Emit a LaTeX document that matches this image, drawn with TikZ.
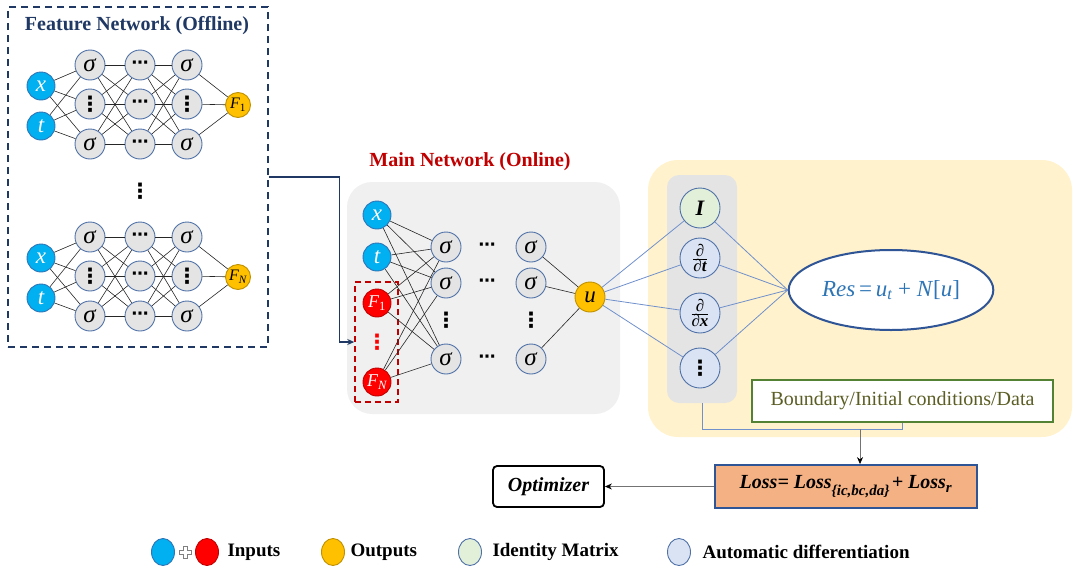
\documentclass[tikz,border=0pt]{standalone}
\usepackage{fontspec}
\setmainfont{Liberation Serif}
\newfontfamily\dotsfnt{DejaVu Sans}
\usetikzlibrary{arrows.meta,shapes.geometric}

\definecolor{inblue}{HTML}{00B0F0}
\definecolor{inedge}{HTML}{2E75B6}
\definecolor{featred}{HTML}{FF0000}
\definecolor{featedge}{HTML}{C00000}
\definecolor{outgold}{HTML}{FFC000}
\definecolor{outedge}{HTML}{BF9000}
\definecolor{cellgray}{HTML}{E4E4E4}
\definecolor{celledge}{HTML}{4F71A8}
\definecolor{idgreen}{HTML}{E2F0D9}
\definecolor{adblue}{HTML}{DAE3F3}
\definecolor{navy}{HTML}{1F3864}
\definecolor{titlered}{HTML}{C00000}
\definecolor{panelgray}{HTML}{F0F0F0}
\definecolor{autogray}{HTML}{E4E4E4}
\definecolor{panelyellow}{HTML}{FFF2CC}
\definecolor{linkblue}{HTML}{7090CC}
\definecolor{resblue}{HTML}{2F5597}
\definecolor{restext}{HTML}{2E75B6}
\definecolor{bcgreen}{HTML}{548235}
\definecolor{bctext}{HTML}{5B5E24}
\definecolor{losssalmon}{HTML}{F4B183}
\definecolor{lossedge}{HTML}{2F5597}

\newcommand\fsz[1]{\fontsize{#1}{#1}\selectfont}
\newcommand\vdt{{\dotsfnt\bfseries ⋮}}
\newcommand\hdt{{\dotsfnt\bfseries ⋯}}
\newcommand\bi[2]{\mbox{\fsz{#1}\bfseries\itshape #2}}
\newcommand\sig{\textit{σ}}

\begin{document}
\begin{tikzpicture}[x=1pt, y=-1pt,
    cell/.style={shape=circle, draw=celledge, fill=cellgray, line width=0.9pt, minimum size=30pt, inner sep=0pt, font=\fsz{25}},
    inp/.style={shape=circle, draw=inedge, fill=inblue, text=white, line width=0.9pt, minimum size=28pt, inner sep=0pt, font=\fsz{23}\itshape},
    feat/.style={inp, draw=featedge, fill=featred, font=\fsz{18}\itshape},
    outp/.style={shape=circle, draw=outedge, fill=outgold, line width=0.9pt, minimum size=25pt, inner sep=0pt, font=\fsz{16}\itshape},
    op/.style={shape=circle, draw=celledge, line width=0.9pt, minimum size=40pt, inner sep=0pt, font=\fsz{19}},
    dts/.style={font=\fsz{17}},
    vdts/.style={font=\fsz{21}},
    link/.style={draw=black!85, line width=0.6pt},
    blink/.style={draw=linkblue, line width=0.8pt},
    ttl/.style={font=\fsz{20}\bfseries},
    leg/.style={shape=ellipse, line width=0.9pt, minimum width=23pt, minimum height=27pt, inner sep=0pt},
    legtxt/.style={anchor=west, font=\fsz{19}\bfseries},
    arr/.style={draw=black!55, line width=0.8pt, -{Stealth[length=7pt, width=6pt, color=black]}}
  ]
  \useasboundingbox (0,0) rectangle (1075,570);

  % feature networks (offline)
  \node[draw=navy, dashed, dash pattern=on 7pt off 5pt, line width=1.8pt, minimum width=260pt, minimum height=340pt] (FBOX) at (138,177) {};
  \node[ttl, text=navy] (FTITLE) at (137,26) {Feature Network (Offline)};

  \node[inp] (XA) at (41,86) {x};
  \node[inp] (TA) at (41,126) {t};
  \node[cell] (A11) at (90,65) {\sig};
  \node[cell, vdts] (A12) at (90,104) {\vdt};
  \node[cell] (A13) at (90,144) {\sig};
  \node[cell, dts] (A21) at (140,65) {\hdt};
  \node[cell, dts] (A22) at (140,104) {\hdt};
  \node[cell, dts] (A23) at (140,144) {\hdt};
  \node[cell] (A31) at (187,65) {\sig};
  \node[cell, vdts] (A32) at (187,104) {\vdt};
  \node[cell] (A33) at (187,144) {\sig};
  \node[outp] (FA1) at (238,105) {F\textsubscript{\upshape 1}};

  \node[vdts] (VDOTS) at (140,191) {\vdt};

  \node[inp] (XB) at (41,258) {x};
  \node[inp] (TB) at (41,298) {t};
  \node[cell] (B11) at (90,237) {\sig};
  \node[cell, vdts] (B12) at (90,276) {\vdt};
  \node[cell] (B13) at (90,316) {\sig};
  \node[cell, dts] (B21) at (140,237) {\hdt};
  \node[cell, dts] (B22) at (140,276) {\hdt};
  \node[cell, dts] (B23) at (140,316) {\hdt};
  \node[cell] (B31) at (187,237) {\sig};
  \node[cell, vdts] (B32) at (187,276) {\vdt};
  \node[cell] (B33) at (187,316) {\sig};
  \node[outp] (FBN) at (238,277) {F\textsubscript{N}};

  \foreach \net/\out in {A/FA1,B/FBN}
    \foreach \row in {1,2,3} {
      \path[link] (X\net) edge (\net1\row);
      \path[link] (T\net) edge (\net1\row);
      \path[link] (\net3\row) edge (\out);
      \foreach \pp in {1,2,3} {
        \path[link] (\net1\row) edge (\net2\pp);
        \path[link] (\net2\row) edge (\net3\pp);
      }
    }

  % main network (online)
  \node[rounded corners=25pt, fill=panelgray, minimum width=273pt, minimum height=232pt] (MAIN) at (483.5,298) {};
  \node[ttl, text=titlered] (MTITLE) at (470,162) {Main Network (Online)};
  \node[draw=featedge, dashed, dash pattern=on 6pt off 4pt, line width=1.5pt, minimum width=43pt, minimum height=120pt] (RBOX) at (376.5,342) {};
  \node[inp] (X) at (377,215) {x};
  \node[inp] (T) at (377,257) {t};
  \node[feat] (FA) at (377,303) {F\textsubscript{\upshape 1}};
  \node[vdts, text=red] (FD) at (377,342) {\vdt};
  \node[feat] (FB) at (377,382) {F\textsubscript{N}};
  \foreach \col/\xx in {1/446,2/531} {
    \node[cell] (S\col1) at (\xx,247) {\sig};
    \node[cell] (S\col2) at (\xx,283) {\sig};
    \node[vdts] (S\col3) at (\xx,320) {\vdt};
    \node[cell] (S\col4) at (\xx,359) {\sig};
  }
  \foreach \row/\yy in {1/247,2/283,4/359} \node[dts] (M\row) at (487,\yy) {\hdt};
  \node[outp, minimum size=30pt, font=\fsz{23}\itshape] (U) at (590,297) {u};
  \foreach \src in {X,T,FA,FB} \foreach \row in {1,2,4} \path[link] (\src) edge (S1\row);
  \foreach \row in {1,2,4} \path[link] (S2\row) edge (U);
  \draw[navy, line width=1.2pt, -{Stealth[length=7pt, width=6pt]}] (FBOX.east) -| ([xshift=-15pt]RBOX.west) -- (RBOX.west);

  % residual part
  \node[rounded corners=30pt, fill=panelyellow, minimum width=424pt, minimum height=277pt] (RIGHT) at (860,298.5) {};
  \node[rounded corners=12pt, fill=autogray, minimum width=70pt, minimum height=228pt] (AUTO) at (702,289) {};
  \node[op, fill=idgreen] (ID) at (700,208) {\bi{22}{I}};
  \node[op, fill=adblue] (DT) at (700,258) {$\frac{\bi{17}{∂}}{\bi{17}{∂t}}$};
  \node[op, fill=adblue] (DX) at (700,313) {$\frac{\bi{17}{∂}}{\bi{17}{∂x}}$};
  \node[op, fill=adblue, vdts] (DD) at (700,368) {\vdt};
  \node[shape=ellipse, draw=resblue, line width=2pt, fill=white, minimum width=168pt, minimum height=80pt, text=restext, font=\fsz{23}] (RES) at (891,290) {\textit{Res}\,=\,\textit{u}\textsubscript{\itshape t} + \textit{N}[\textit{u}]};
  \node[draw=bcgreen, line width=1.5pt, fill=white, minimum width=301pt, minimum height=42pt, text=bctext, font=\fsz{20}] (BC) at (902.5,401) {Boundary/Initial conditions/Data};
  \foreach \op in {ID,DT,DX,DD} {
    \path[blink] (U) edge (\op);
    \path[blink] (\op) edge (RES.west);
  }
  \coordinate (JL) at (702,429);
  \draw[blink] (AUTO.south) -- (JL) -| (BC.south);

  % loss and optimizer
  \node[draw=lossedge, fill=losssalmon, line width=1.8pt, minimum width=262pt, minimum height=43pt] (LOSS) at (846,486.5) {\bi{20}{Loss= Loss}$_{\bi{15}{\{ic,bc,da\}}}$\,\bi{20}{+ Loss}$_{\bi{15}{r}}$};
  \node[draw=black, rounded corners=4pt, line width=1.8pt, minimum width=111pt, minimum height=41pt, font=\fsz{20}\bfseries\itshape] (OPT) at (548.5,486.5) {Optimizer};
  \coordinate (JA) at (860,429);
  \draw[arr] (JA) -- (JA |- LOSS.north);
  \draw[arr] (LOSS.west) -- (OPT.east);

  % legend
  \node[leg, draw=inedge, fill=inblue] (LIN) at (163,552) {};
  \coordinate (LPLUS) at (185,552);
  \draw[gray, fill=white, line width=0.6pt] (LPLUS) ++(-2,-6) -- ++(4,0) -- ++(0,4) -- ++(4,0) -- ++(0,4) -- ++(-4,0) -- ++(0,4) -- ++(-4,0) -- ++(0,-4) -- ++(-4,0) -- ++(0,-4) -- ++(4,0) -- cycle;
  \node[leg, draw=featedge, fill=featred] (LFE) at (207,552) {};
  \node[legtxt] (TIN) at (224,552) {Inputs};
  \node[leg, draw=outedge, fill=outgold] (LOUT) at (333,552) {};
  \node[legtxt] (TOUT) at (347,552) {Outputs};
  \node[leg, draw=celledge, fill=idgreen] (LID) at (470,552) {};
  \node[legtxt] (TID) at (489,552) {Identity Matrix};
  \node[leg, draw=celledge, fill=adblue] (LAD) at (679,552) {};
  \node[legtxt] (TAD) at (699,552) {Automatic differentiation};
\end{tikzpicture}
\end{document}
